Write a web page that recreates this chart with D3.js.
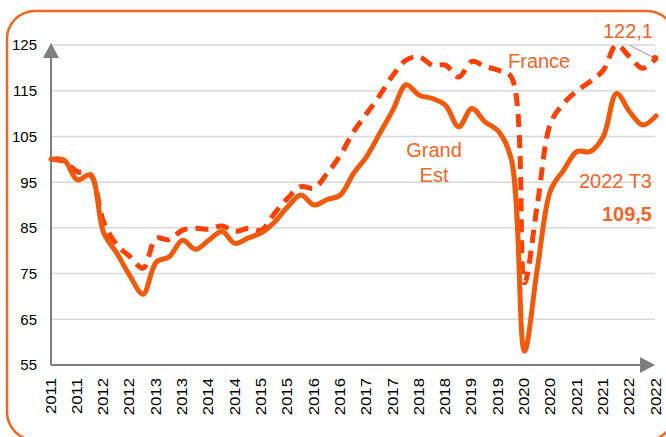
<!DOCTYPE html>
<html>
<head>
<meta charset="utf-8">
<script src="https://cdn.jsdelivr.net/npm/d3@7"></script>
<style>
  html, body { margin: 0; padding: 0; background: #fff; }
  svg { display: block; font-family: Arial, "Liberation Sans", sans-serif; }
</style>
</head>
<body>
<svg id="chart" width="666" height="437"></svg>
<script>
// tick labels, one every two quarters (2011 T1 -> 2022 T3)
var tickLabels = ['2011', '2011', '2012', '2012', '2013', '2013', '2014', '2014',
    '2015', '2015', '2016', '2016', '2017', '2017', '2018', '2018',
    '2019', '2019', '2020', '2020', '2021', '2021', '2022', '2022'];

var yTicks = [55, 65, 75, 85, 95, 105, 115, 125];

// Grand Est, quarterly index (base 100)
var grandEst = [100, 99.8, 95.5, 96.6, 84, 79.5, 74.5, 70.5, 77.5, 78.7,
    82.3, 80.3, 82.3, 84.2, 81.6, 82.8, 83.9, 86.3, 89.6, 92.2,
    90, 91.2, 92.2, 96.9, 100.6, 105.7, 110.8, 116.3, 114, 113.3,
    111.8, 107.1, 111.1, 108.2, 106.2, 100, 58, 76.5, 93.3, 97.7,
    101.7, 101.7, 105, 114.4, 110.4, 107.5, 109.5];

// France, quarterly index (base 100)
var france = [100, 99.5, 97.3, 96.6, 86.3, 81.3, 78.7, 76.2, 82.7, 82.4,
    84.5, 84.9, 84.7, 85.4, 84.2, 84.9, 84.5, 88.2, 91.5, 94,
    93.7, 96.9, 100.9, 106, 110, 114, 118.4, 121.7, 122.4, 120.6,
    120.6, 118, 121.4, 120.3, 119.5, 118, 73, 90.5, 108, 112.3,
    115, 117, 119.5, 125, 122.4, 119.9, 122.1];

function drawChart() {
    var svg = d3.select('#chart');
    var n = grandEst.length;

    var x = d3.scaleLinear().domain([0, n - 1]).range([51, 656]);
    var y = d3.scaleLinear().domain([55, 125]).range([365, 45]);

    var orange = '#f26522';
    var textCol = '#f0652b';
    var axisCol = '#7f7f7f';

    // cadre arrondi
    svg.append('rect')
        .attr('x', 7).attr('y', 11)
        .attr('width', 668).attr('height', 429)
        .attr('rx', 28).attr('ry', 28)
        .attr('fill', 'none')
        .attr('stroke', orange)
        .attr('stroke-width', 2.5);

    // lignes de grille
    svg.append('g').selectAll('line')
        .data(yTicks.filter(function (d) { return d > 55; }))
        .enter().append('line')
        .attr('x1', x(0)).attr('x2', x(n - 1) - 1)
        .attr('y1', function (d) { return y(d); })
        .attr('y2', function (d) { return y(d); })
        .attr('stroke', '#d9d9d9')
        .attr('stroke-width', 1.5);

    // etiquettes Y
    svg.append('g').selectAll('text')
        .data(yTicks)
        .enter().append('text')
        .attr('x', 37)
        .attr('y', function (d) { return y(d); })
        .attr('dy', '0.36em')
        .attr('text-anchor', 'end')
        .attr('font-size', 15)
        .attr('fill', '#000')
        .text(function (d) { return d; });

    // etiquettes X (verticales)
    svg.append('g').selectAll('text')
        .data(tickLabels)
        .enter().append('text')
        .attr('transform', function (d, k) {
            return 'translate(' + (x(2 * k) - 0.5) + ',378) rotate(-90) scale(1.2,1)';
        })
        .attr('dy', '0.36em')
        .attr('text-anchor', 'end')
        .attr('font-size', 14)
        .attr('fill', '#000')
        .text(function (d) { return d; });

    // axes avec fleches
    var x0 = x(0), yBase = y(55);
    svg.append('line')
        .attr('x1', x0).attr('x2', x0)
        .attr('y1', yBase).attr('y2', y(125) + 8)
        .attr('stroke', axisCol).attr('stroke-width', 2);
    svg.append('path')
        .attr('d', 'M' + x0 + ',' + (y(125) - 2) + 'L' + (x0 - 8) + ',' + (y(125) + 13) +
            'L' + (x0 + 8) + ',' + (y(125) + 13) + 'Z')
        .attr('fill', axisCol);

    var xEnd = x(n - 1) - 1;
    svg.append('line')
        .attr('x1', x0).attr('x2', xEnd - 8)
        .attr('y1', yBase).attr('y2', yBase)
        .attr('stroke', axisCol).attr('stroke-width', 2);
    svg.append('path')
        .attr('d', 'M' + xEnd + ',' + yBase + 'L' + (xEnd - 15) + ',' + (yBase - 8) +
            'L' + (xEnd - 15) + ',' + (yBase + 8) + 'Z')
        .attr('fill', axisCol);

    var line = d3.line()
        .x(function (d, i) { return x(i); })
        .y(function (d) { return y(d); })
        .curve(d3.curveCatmullRom.alpha(0.5));

    // France (tirets)
    svg.append('path')
        .datum(france)
        .attr('d', line)
        .attr('fill', 'none')
        .attr('stroke', '#ff4000')
        .attr('stroke-width', 5)
        .attr('stroke-dasharray', '13,8');

    // Grand Est (trait plein)
    svg.append('path')
        .datum(grandEst)
        .attr('d', line)
        .attr('fill', 'none')
        .attr('stroke', '#f05a0a')
        .attr('stroke-width', 5)
        .attr('stroke-linejoin', 'round')
        .attr('stroke-linecap', 'round');

    // dernier point France + repere
    var last = n - 1;
    svg.append('line')
        .attr('x1', 630).attr('y1', 45.5)
        .attr('x2', x(last) - 3).attr('y2', y(france[last]) - 1)
        .attr('stroke', '#a6a6a6').attr('stroke-width', 1.2);
    svg.append('circle')
        .attr('cx', x(last) - 1).attr('cy', y(france[last]))
        .attr('r', 3.2)
        .attr('fill', '#ff4000');

    // textes
    var labels = [
        { t: 'France', x: 508, y: 68, a: 'start', w: 'normal' },
        { t: 'Grand', x: 434, y: 157, a: 'middle', w: 'normal' },
        { t: 'Est', x: 434, y: 182, a: 'middle', w: 'normal' },
        { t: '122,1', x: 653, y: 38, a: 'end', w: 'normal' },
        { t: '2022 T3', x: 652, y: 188, a: 'end', w: 'normal' },
        { t: '109,5', x: 652, y: 221, a: 'end', w: 'bold' }
    ];
    svg.append('g').selectAll('text')
        .data(labels)
        .enter().append('text')
        .attr('x', function (d) { return d.x; })
        .attr('y', function (d) { return d.y; })
        .attr('text-anchor', function (d) { return d.a; })
        .attr('font-weight', function (d) { return d.w; })
        .attr('font-size', 20)
        .attr('fill', textCol)
        .text(function (d) { return d.t; });
}

drawChart();
</script>
</body>
</html>
